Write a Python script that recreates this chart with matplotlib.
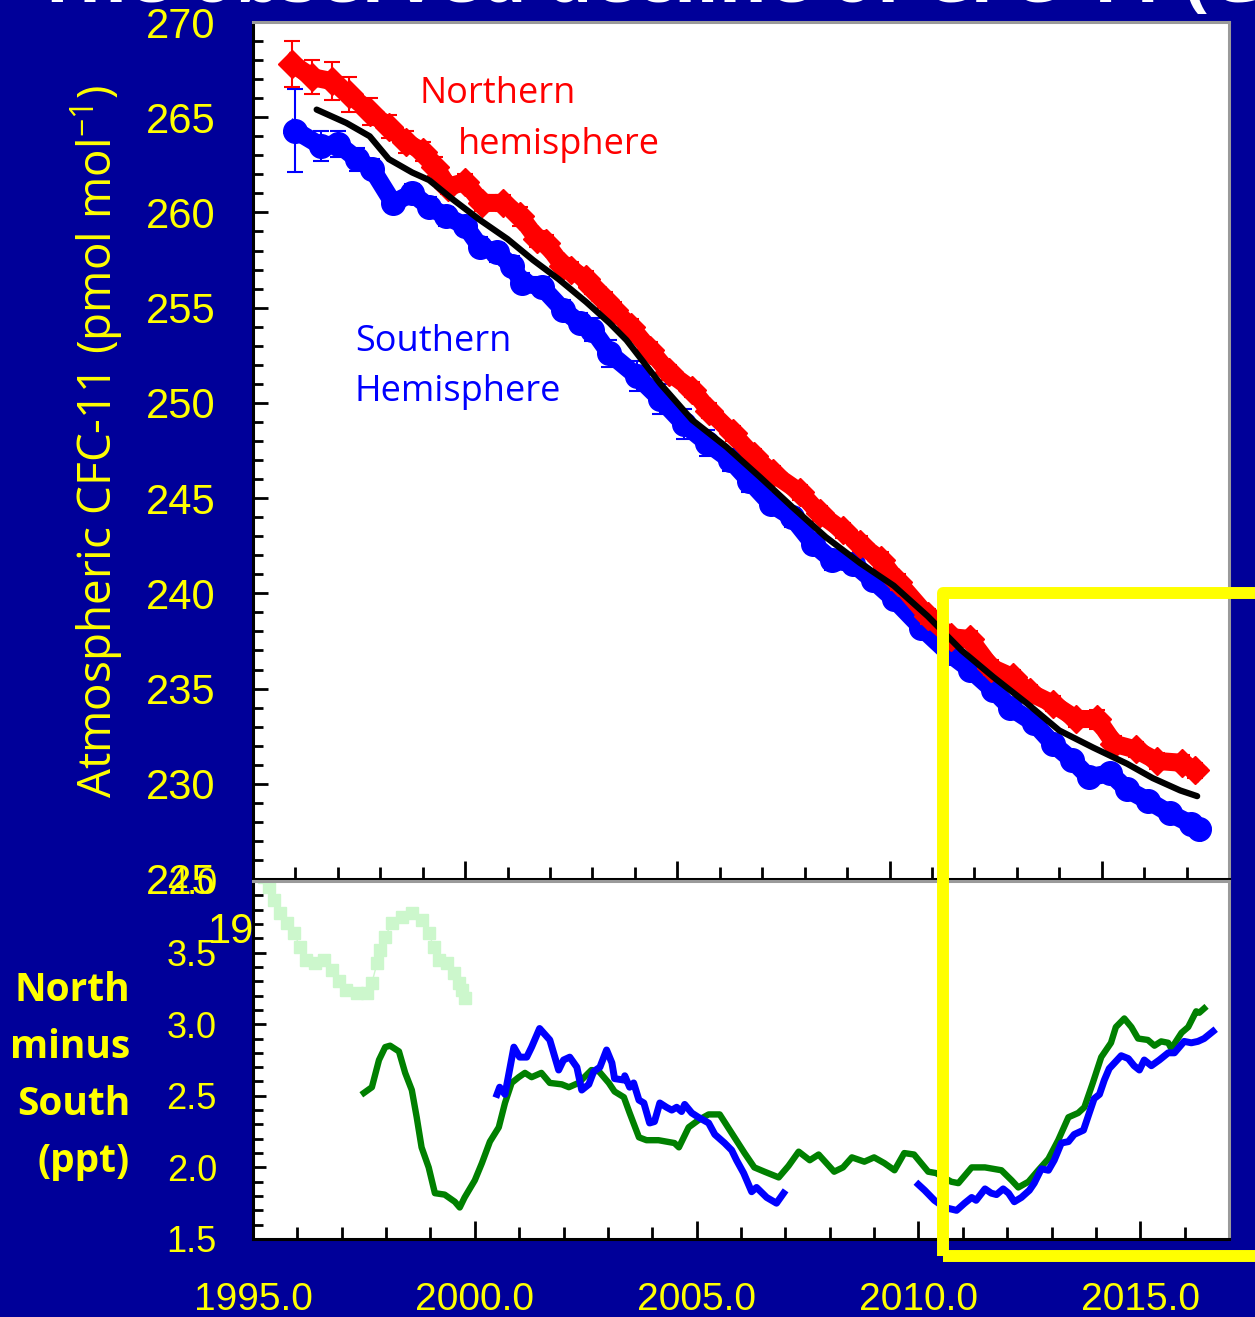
import matplotlib
matplotlib.use("Agg")
import matplotlib.pyplot as plt
from matplotlib.ticker import MultipleLocator, FormatStrFormatter
from matplotlib.patches import Rectangle

# === Upper panel data (ppt) ===
nh_year = [1995.93, 1996.4, 1996.85, 1997.27, 1997.75, 1998.2, 1998.6, 1999.0, 1999.3, 1999.6,
           2000.0, 2000.4, 2000.9, 2001.3, 2001.7, 2001.9, 2002.3, 2002.5, 2002.85, 2003.0,
           2003.3, 2003.5, 2003.9, 2004.35, 2004.8, 2005.35, 2005.75, 2006.3, 2006.8, 2007.25,
           2007.9, 2008.35, 2008.9, 2009.3, 2009.8, 2010.2, 2010.9, 2011.45, 2011.9, 2012.4,
           2012.9, 2013.3, 2013.85, 2014.4, 2014.9, 2015.3, 2015.8, 2016.3, 2016.9, 2017.2]
nh_val = [267.8, 267.1, 266.9, 266.2, 265.3, 264.5, 263.7, 263.2, 262.4, 261.35,
          261.6, 260.5, 260.5, 259.8, 258.6, 258.4, 257.2, 257.0, 256.5, 256.1,
          255.4, 254.9, 254.0, 252.8, 251.6, 250.7, 249.6, 248.4, 247.2, 246.3,
          245.3, 244.2, 243.3, 242.6, 241.75, 240.6, 238.8, 237.7, 237.6, 236.1,
          235.6, 234.8, 234.2, 233.4, 233.4, 232.1, 231.8, 231.2, 231.1, 230.7]
nh_err = [1.2, 0.9, 1.0, 0.9, 0.7, 0.6, 0.6, 0.5, 0.5, 0.4,
          0.4, 0.4, 0.4, 0.5, 0.4, 0.4, 0.4, 0.4, 0.4, 0.4,
          0.4, 0.4, 0.4, 0.4, 0.4, 0.4, 0.4, 0.4, 0.4, 0.4,
          0.4, 0.4, 0.4, 0.4, 0.4, 0.4, 0.4, 0.4, 0.4, 0.4,
          0.4, 0.4, 0.4, 0.4, 0.5, 0.4, 0.4, 0.4, 0.4, 0.4]

sh_year = [1996.0, 1996.6, 1997.0, 1997.45, 1997.8, 1998.3, 1998.75, 1999.15, 1999.55, 2000.0,
           2000.35, 2000.75, 2001.1, 2001.35, 2001.8, 2002.3, 2002.7, 2003.0, 2003.4, 2004.05,
           2004.6, 2005.15, 2005.7, 2006.25, 2006.7, 2007.2, 2007.7, 2008.2, 2008.65, 2009.15,
           2009.6, 2010.1, 2010.75, 2011.4, 2011.9, 2012.45, 2012.85, 2013.4, 2013.85, 2014.3,
           2014.7, 2015.2, 2015.6, 2016.1, 2016.6, 2017.1, 2017.3]
sh_val = [264.3, 263.5, 263.6, 262.8, 262.3, 260.5, 261.0, 260.3, 259.8, 259.3,
          258.2, 257.9, 257.2, 256.3, 256.1, 254.9, 254.2, 253.85, 252.6, 251.4,
          250.2, 248.9, 247.9, 247.0, 245.9, 244.7, 244.0, 242.6, 241.75, 241.55,
          240.7, 239.7, 238.2, 236.85, 236.0, 234.9, 234.0, 233.2, 232.1, 231.25,
          230.35, 230.55, 229.7, 229.1, 228.45, 227.9, 227.6]
sh_err = [2.2, 0.8, 0.7, 0.6, 0.5, 0.5, 0.5, 0.5, 0.5, 0.5,
          0.5, 0.5, 0.5, 0.5, 0.5, 0.5, 0.5, 0.6, 0.7, 0.8,
          0.8, 0.8, 0.7, 0.6, 0.6, 0.5, 0.5, 0.5, 0.5, 0.5,
          0.4, 0.4, 0.4, 0.4, 0.4, 0.4, 0.4, 0.4, 0.4, 0.4,
          0.4, 0.4, 0.4, 0.4, 0.4, 0.4, 0.4]

gl_year = [1996.5, 1997.2, 1997.75, 1998.2, 1998.75, 1999.15, 1999.7, 2000.35, 2001.0, 2001.6,
           2002.2, 2002.85, 2003.4, 2003.8, 2004.6, 2005.35, 2006.15, 2006.95, 2007.7, 2008.5,
           2009.3, 2010.1, 2010.9, 2011.7, 2012.45, 2013.25, 2014.0, 2014.8, 2015.6, 2016.2,
           2016.85, 2017.25]
gl_val = [265.4, 264.7, 264.0, 262.8, 262.1, 261.7, 260.7, 259.6, 258.6, 257.5,
          256.5, 255.3, 254.2, 253.3, 251.0, 249.1, 247.7, 246.1, 244.55, 242.95,
          241.6, 240.4, 238.8, 237.0, 235.6, 234.2, 232.8, 231.9, 231.05, 230.3,
          229.65, 229.35]

# === Lower panel data: North minus South (ppt) ===
old_year = [1995.25, 1995.36, 1995.47, 1995.6, 1995.77, 1995.92, 1996.06, 1996.2, 1996.4, 1996.6,
            1996.78, 1996.93, 1997.1, 1997.35, 1997.57, 1997.68, 1997.8, 1997.87, 1997.98, 1998.13,
            1998.36, 1998.58, 1998.8, 1998.96, 1999.07, 1999.2, 1999.37, 1999.53, 1999.64, 1999.7,
            1999.77]
old_diff = [4.03, 3.96, 3.87, 3.78, 3.71, 3.64, 3.54, 3.45, 3.43, 3.45,
            3.38, 3.30, 3.24, 3.22, 3.22, 3.29, 3.43, 3.52, 3.61, 3.71,
            3.75, 3.78, 3.73, 3.64, 3.54, 3.45, 3.43, 3.36, 3.29, 3.24,
            3.18]

grn_year = [1997.5, 1997.68, 1997.84, 1997.98, 1998.09, 1998.29, 1998.43, 1998.58, 1998.69, 1998.8,
            1998.96, 1999.1, 1999.32, 1999.55, 1999.66, 1999.77, 2000.0, 2000.16, 2000.34, 2000.54,
            2000.68, 2000.83, 2000.99, 2001.13, 2001.28, 2001.5, 2001.69, 2001.96, 2002.12, 2002.34,
            2002.63, 2002.8, 2003.02, 2003.15, 2003.36, 2003.49, 2003.7, 2003.87, 2004.14, 2004.5,
            2004.6, 2004.82, 2005.04, 2005.27, 2005.52, 2005.79, 2006.08, 2006.3, 2006.53, 2006.85,
            2007.07, 2007.3, 2007.55, 2007.75, 2008.1, 2008.3, 2008.5, 2008.78, 2009.0, 2009.23,
            2009.46, 2009.68, 2009.9, 2010.22, 2010.4, 2010.74, 2010.9, 2011.2, 2011.5, 2011.87,
            2012.1, 2012.25, 2012.48, 2012.7, 2012.93, 2013.15, 2013.38, 2013.6, 2013.74, 2013.93,
            2014.12, 2014.34, 2014.45, 2014.64, 2014.8, 2014.95, 2015.17, 2015.32, 2015.47, 2015.63,
            2015.7, 2015.93, 2016.08, 2016.26, 2016.33, 2016.44]
grn_diff = [2.52, 2.56, 2.75, 2.84, 2.85, 2.81, 2.66, 2.54, 2.35, 2.14,
            2.00, 1.82, 1.81, 1.76, 1.72, 1.79, 1.91, 2.03, 2.18, 2.28,
            2.45, 2.59, 2.63, 2.66, 2.63, 2.66, 2.59, 2.58, 2.56, 2.59,
            2.68, 2.67, 2.59, 2.53, 2.49, 2.38, 2.21, 2.19, 2.19, 2.17,
            2.14, 2.28, 2.33, 2.37, 2.37, 2.24, 2.10, 2.00, 1.97, 1.93,
            2.01, 2.11, 2.05, 2.09, 1.97, 2.00, 2.07, 2.04, 2.07, 2.03,
            1.98, 2.10, 2.09, 1.97, 1.96, 1.90, 1.89, 2.00, 2.00, 1.98,
            1.91, 1.86, 1.90, 1.98, 2.06, 2.19, 2.35, 2.38, 2.42, 2.59,
            2.77, 2.87, 2.98, 3.04, 2.98, 2.90, 2.89, 2.85, 2.88, 2.87,
            2.83, 2.94, 2.98, 3.09, 3.08, 3.11]

blu1_year = [2000.5, 2000.56, 2000.68, 2000.88, 2001.01, 2001.17, 2001.28, 2001.46, 2001.69, 2001.89,
             2002.0, 2002.14, 2002.3, 2002.41, 2002.57, 2002.68, 2002.82, 2002.97, 2003.09, 2003.15,
             2003.36, 2003.38, 2003.49, 2003.58, 2003.7, 2003.81, 2003.94, 2004.05, 2004.17, 2004.32,
             2004.44, 2004.55, 2004.66, 2004.73, 2004.89, 2005.04, 2005.27, 2005.41, 2005.63, 2005.79,
             2005.9, 2006.06, 2006.24, 2006.35, 2006.58, 2006.8, 2006.96]
blu1_diff = [2.51, 2.56, 2.51, 2.84, 2.77, 2.77, 2.84, 2.97, 2.89, 2.68,
             2.75, 2.77, 2.70, 2.54, 2.58, 2.67, 2.70, 2.82, 2.73, 2.62,
             2.61, 2.64, 2.56, 2.59, 2.47, 2.45, 2.31, 2.32, 2.45, 2.42,
             2.40, 2.42, 2.39, 2.44, 2.38, 2.35, 2.31, 2.23, 2.17, 2.12,
             2.05, 1.96, 1.83, 1.86, 1.79, 1.75, 1.82]

blu2_year = [2010.0, 2010.14, 2010.36, 2010.59, 2010.86, 2011.04, 2011.2, 2011.3, 2011.5, 2011.64,
             2011.76, 2011.91, 2012.03, 2012.16, 2012.32, 2012.5, 2012.61, 2012.77, 2012.93, 2013.06,
             2013.22, 2013.38, 2013.51, 2013.72, 2013.85, 2013.96, 2014.08, 2014.19, 2014.3, 2014.57,
             2014.73, 2014.86, 2014.98, 2015.09, 2015.25, 2015.43, 2015.63, 2015.77, 2015.99, 2016.15,
             2016.3, 2016.44, 2016.64]
blu2_diff = [1.88, 1.84, 1.77, 1.72, 1.70, 1.75, 1.79, 1.77, 1.85, 1.82,
             1.81, 1.85, 1.82, 1.76, 1.79, 1.84, 1.89, 1.99, 1.98, 2.05,
             2.17, 2.18, 2.23, 2.26, 2.38, 2.48, 2.51, 2.61, 2.69, 2.78,
             2.76, 2.71, 2.68, 2.75, 2.71, 2.75, 2.80, 2.80, 2.88, 2.87,
             2.88, 2.90, 2.95]

top_xlim = (1995, 2018)
bot_xlim = (1995, 2017)

navy = '#000099'
yellow = '#ffff00'

plt.rcParams['font.family'] = ['Liberation Sans', 'DejaVu Sans']
plt.rcParams['mathtext.fontset'] = 'custom'
plt.rcParams['mathtext.rm'] = 'Open Sans'
plt.rcParams['mathtext.default'] = 'regular'

W, H = 1255, 1317
fig = plt.figure(figsize=(W / 100, H / 100), dpi=100, facecolor=navy)
ax = fig.add_axes([253 / W, 1 - 879 / H, 976 / W, 857 / H])
ax2 = fig.add_axes([253 / W, 1 - 1239 / H, 976 / W, 358 / H])

# === Upper panel ===
ax.errorbar(sh_year, sh_val, yerr=sh_err, fmt='o-', color='#0000ff', ms=17, lw=13,
            elinewidth=1.5, capsize=6, capthick=1.5, zorder=2)
ax.errorbar(nh_year, nh_val, yerr=nh_err, fmt='D-', color='#ff0000', ms=14, lw=13,
            elinewidth=1.5, capsize=6, capthick=1.5, zorder=3)
ax.plot(gl_year, gl_val, color='black', lw=4.5, solid_capstyle='round', zorder=4)

ax.set_xlim(*top_xlim)
ax.set_ylim(225, 270)
ax.xaxis.set_major_locator(MultipleLocator(5))
ax.xaxis.set_minor_locator(MultipleLocator(1))
ax.yaxis.set_major_locator(MultipleLocator(5))
ax.yaxis.set_minor_locator(MultipleLocator(1))
ax.tick_params(axis='x', which='both', direction='in', labelbottom=False, width=2, color='black')
ax.tick_params(axis='x', which='major', length=13)
ax.tick_params(axis='x', which='minor', length=9)
ax.tick_params(axis='y', which='both', direction='in', width=2, color='black')
ax.tick_params(axis='y', which='major', length=11, labelsize=30, labelcolor=yellow, pad=27)
ax.tick_params(axis='y', which='minor', length=7)

ax.text(0.171, 0.916, 'Northern', color='#ff0000', fontsize=26, family=['Open Sans'],
        transform=ax.transAxes, va='center', ha='left')
ax.text(0.210, 0.856, 'hemisphere', color='#ff0000', fontsize=26, family=['Open Sans'],
        transform=ax.transAxes, va='center', ha='left')
ax.text(0.1045, 0.627, 'Southern', color='#0000ff', fontsize=26, family=['Open Sans'],
        transform=ax.transAxes, va='center', ha='left')
ax.text(0.1045, 0.568, 'Hemisphere', color='#0000ff', fontsize=26, family=['Open Sans'],
        transform=ax.transAxes, va='center', ha='left')

# === Lower panel ===
ax2.plot(old_year, old_diff, 's-', color='#ccf7cc', ms=8, lw=1, zorder=2)
ax2.plot(grn_year, grn_diff, color='#008000', lw=4.6, zorder=3)
ax2.plot(blu1_year, blu1_diff, color='#0000ff', lw=5, zorder=4)
ax2.plot(blu2_year, blu2_diff, color='#0000ff', lw=5, zorder=4)

ax2.set_xlim(*bot_xlim)
ax2.set_ylim(1.5, 4.0)
ax2.xaxis.set_major_locator(MultipleLocator(5))
ax2.xaxis.set_minor_locator(MultipleLocator(1))
ax2.xaxis.set_major_formatter(FormatStrFormatter('%.1f'))
ax2.yaxis.set_major_locator(MultipleLocator(0.5))
ax2.yaxis.set_minor_locator(MultipleLocator(0.1))
ax2.yaxis.set_major_formatter(FormatStrFormatter('%.1f'))
ax2.tick_params(axis='x', which='both', direction='in', width=2, color='black')
ax2.tick_params(axis='x', which='major', length=13, labelsize=28, labelcolor=yellow, pad=31)
ax2.tick_params(axis='x', which='minor', length=9)
ax2.tick_params(axis='y', which='both', direction='in', width=2, color='black')
ax2.tick_params(axis='y', which='major', length=9, labelsize=26, labelcolor=yellow, pad=26)
ax2.tick_params(axis='y', which='minor', length=7)

for a in (ax, ax2):
    a.set_facecolor('white')
    a.spines['left'].set_color('black')
    a.spines['bottom'].set_color('black')
    a.spines['top'].set_color('#9a9a9a')
    a.spines['right'].set_color('#9a9a9a')
    for s in a.spines.values():
        s.set_linewidth(2.2)

# === Labels and slide decorations ===
fig.text(97 / W, 1 - 442 / H, 'Atmospheric CFC-11 (pmol mol$^{-1}$)', rotation=90,
         color=yellow, fontsize=33, family=['Open Sans'], ha='center', va='center')
fig.text(130 / W, 1 - 1076 / H, 'North\nminus\nSouth\n(ppt)', color=yellow, fontsize=28,
         fontweight='bold', family=['Open Sans'], ha='right', va='center', ma='right',
         linespacing=1.6)
fig.text(36 / W, 1 - 2 / H, 'The observed decline of CFC-11 (Global)', color='white',
         fontsize=53, fontweight='bold', family=['Open Sans'], va='baseline', ha='left')
# stray year label peeking out behind the lower panel
fig.text(208 / W, 1 - 932 / H, '1995.0', color=yellow, fontsize=30, va='center', ha='left',
         zorder=-1)

box = Rectangle((943 / W, 1 - 1256 / H), (1330 - 943) / W, (1256 - 593) / H,
                transform=fig.transFigure, fill=False, ec=yellow, lw=8.6,
                joinstyle='round', clip_on=False, zorder=10)
fig.add_artist(box)

fig.savefig('out.png', dpi=100, facecolor=navy)
